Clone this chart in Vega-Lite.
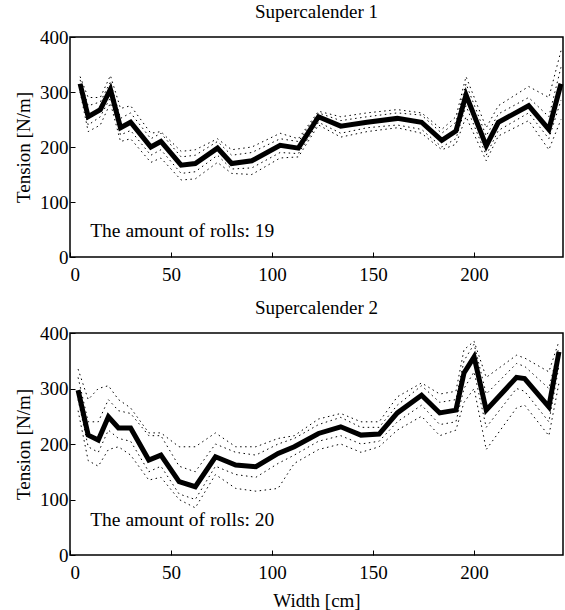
{
  "$schema": "https://vega.github.io/schema/vega-lite/v6.json",
  "background": "white",
  "padding": {"left": 13, "top": 2, "right": 0, "bottom": 0},
  "spacing": 13,
  "config": {
    "font": "Liberation Serif",
    "view": {"stroke": "black", "strokeWidth": 1.5},
    "axis": {
      "domain": false, "grid": false, "labelFontSize": 19, "labelColor": "black",
      "titleFontSize": 19, "titleFontWeight": "normal", "titleColor": "black",
      "tickColor": "black", "tickSize": -5, "labelPadding": 13
    },
    "axisY": {"labelPadding": 7},
    "title": {"fontSize": 19, "fontWeight": "normal", "color": "black", "offset": 6}
  },
  "datasets": {
    "p1": [
      {"s":"mean","x":5,"y":315},{"s":"mean","x":9,"y":255},{"s":"mean","x":15,"y":268},{"s":"mean","x":20,"y":305},{"s":"mean","x":25,"y":235},{"s":"mean","x":30,"y":245},{"s":"mean","x":40,"y":200},{"s":"mean","x":45,"y":210},{"s":"mean","x":55,"y":167},{"s":"mean","x":62,"y":170},{"s":"mean","x":73,"y":198},{"s":"mean","x":80,"y":170},{"s":"mean","x":90,"y":175},{"s":"mean","x":104,"y":203},{"s":"mean","x":113,"y":198},{"s":"mean","x":123,"y":255},{"s":"mean","x":134,"y":238},{"s":"mean","x":147,"y":245},{"s":"mean","x":162,"y":252},{"s":"mean","x":174,"y":245},{"s":"mean","x":184,"y":212},{"s":"mean","x":191,"y":229},{"s":"mean","x":196,"y":295},{"s":"mean","x":206,"y":202},{"s":"mean","x":212,"y":245},{"s":"mean","x":227,"y":275},{"s":"mean","x":237,"y":232},{"s":"mean","x":243,"y":315},
      {"s":"u1","x":5,"y":322},{"s":"u1","x":9,"y":275},{"s":"u1","x":15,"y":282},{"s":"u1","x":20,"y":318},{"s":"u1","x":25,"y":252},{"s":"u1","x":30,"y":262},{"s":"u1","x":40,"y":215},{"s":"u1","x":45,"y":225},{"s":"u1","x":55,"y":182},{"s":"u1","x":62,"y":185},{"s":"u1","x":73,"y":210},{"s":"u1","x":80,"y":185},{"s":"u1","x":90,"y":190},{"s":"u1","x":104,"y":215},{"s":"u1","x":113,"y":210},{"s":"u1","x":123,"y":262},{"s":"u1","x":134,"y":248},{"s":"u1","x":147,"y":255},{"s":"u1","x":162,"y":262},{"s":"u1","x":174,"y":258},{"s":"u1","x":184,"y":225},{"s":"u1","x":191,"y":245},{"s":"u1","x":196,"y":315},{"s":"u1","x":206,"y":220},{"s":"u1","x":212,"y":260},{"s":"u1","x":227,"y":290},{"s":"u1","x":237,"y":255},{"s":"u1","x":243,"y":345},
      {"s":"u2","x":5,"y":328},{"s":"u2","x":9,"y":290},{"s":"u2","x":15,"y":290},{"s":"u2","x":20,"y":330},{"s":"u2","x":25,"y":270},{"s":"u2","x":30,"y":275},{"s":"u2","x":40,"y":225},{"s":"u2","x":45,"y":228},{"s":"u2","x":55,"y":192},{"s":"u2","x":62,"y":195},{"s":"u2","x":73,"y":215},{"s":"u2","x":80,"y":195},{"s":"u2","x":90,"y":200},{"s":"u2","x":104,"y":225},{"s":"u2","x":113,"y":215},{"s":"u2","x":123,"y":265},{"s":"u2","x":134,"y":255},{"s":"u2","x":147,"y":262},{"s":"u2","x":162,"y":268},{"s":"u2","x":174,"y":262},{"s":"u2","x":184,"y":232},{"s":"u2","x":191,"y":255},{"s":"u2","x":196,"y":328},{"s":"u2","x":206,"y":235},{"s":"u2","x":212,"y":275},{"s":"u2","x":227,"y":310},{"s":"u2","x":237,"y":290},{"s":"u2","x":243,"y":375},
      {"s":"l1","x":5,"y":305},{"s":"l1","x":9,"y":240},{"s":"l1","x":15,"y":255},{"s":"l1","x":20,"y":290},{"s":"l1","x":25,"y":222},{"s":"l1","x":30,"y":230},{"s":"l1","x":40,"y":185},{"s":"l1","x":45,"y":195},{"s":"l1","x":55,"y":152},{"s":"l1","x":62,"y":155},{"s":"l1","x":73,"y":185},{"s":"l1","x":80,"y":160},{"s":"l1","x":90,"y":162},{"s":"l1","x":104,"y":190},{"s":"l1","x":113,"y":188},{"s":"l1","x":123,"y":245},{"s":"l1","x":134,"y":225},{"s":"l1","x":147,"y":235},{"s":"l1","x":162,"y":240},{"s":"l1","x":174,"y":232},{"s":"l1","x":184,"y":200},{"s":"l1","x":191,"y":215},{"s":"l1","x":196,"y":275},{"s":"l1","x":206,"y":185},{"s":"l1","x":212,"y":230},{"s":"l1","x":227,"y":262},{"s":"l1","x":237,"y":215},{"s":"l1","x":243,"y":285},
      {"s":"l2","x":5,"y":300},{"s":"l2","x":9,"y":228},{"s":"l2","x":15,"y":240},{"s":"l2","x":20,"y":280},{"s":"l2","x":25,"y":210},{"s":"l2","x":30,"y":215},{"s":"l2","x":40,"y":172},{"s":"l2","x":45,"y":180},{"s":"l2","x":55,"y":140},{"s":"l2","x":62,"y":142},{"s":"l2","x":73,"y":172},{"s":"l2","x":80,"y":152},{"s":"l2","x":90,"y":150},{"s":"l2","x":104,"y":180},{"s":"l2","x":113,"y":182},{"s":"l2","x":123,"y":240},{"s":"l2","x":134,"y":218},{"s":"l2","x":147,"y":228},{"s":"l2","x":162,"y":235},{"s":"l2","x":174,"y":225},{"s":"l2","x":184,"y":195},{"s":"l2","x":191,"y":205},{"s":"l2","x":196,"y":255},{"s":"l2","x":206,"y":175},{"s":"l2","x":212,"y":220},{"s":"l2","x":227,"y":248},{"s":"l2","x":237,"y":195},{"s":"l2","x":243,"y":250}
    ],
    "p2": [
      {"s":"mean","x":4,"y":297},{"s":"mean","x":9,"y":216},{"s":"mean","x":14,"y":207},{"s":"mean","x":19,"y":249},{"s":"mean","x":24,"y":229},{"s":"mean","x":30,"y":229},{"s":"mean","x":39,"y":171},{"s":"mean","x":45,"y":180},{"s":"mean","x":54,"y":132},{"s":"mean","x":62,"y":123},{"s":"mean","x":72,"y":177},{"s":"mean","x":82,"y":162},{"s":"mean","x":92,"y":159},{"s":"mean","x":103,"y":183},{"s":"mean","x":111,"y":195},{"s":"mean","x":123,"y":219},{"s":"mean","x":134,"y":231},{"s":"mean","x":144,"y":216},{"s":"mean","x":153,"y":218},{"s":"mean","x":162,"y":256},{"s":"mean","x":174,"y":288},{"s":"mean","x":183,"y":256},{"s":"mean","x":191,"y":261},{"s":"mean","x":195,"y":328},{"s":"mean","x":200,"y":357},{"s":"mean","x":206,"y":261},{"s":"mean","x":221,"y":320},{"s":"mean","x":225,"y":318},{"s":"mean","x":237,"y":267},{"s":"mean","x":242,"y":366},
      {"s":"u1","x":4,"y":320},{"s":"u1","x":9,"y":240},{"s":"u1","x":14,"y":240},{"s":"u1","x":19,"y":280},{"s":"u1","x":24,"y":260},{"s":"u1","x":30,"y":255},{"s":"u1","x":39,"y":215},{"s":"u1","x":45,"y":215},{"s":"u1","x":54,"y":160},{"s":"u1","x":62,"y":150},{"s":"u1","x":72,"y":200},{"s":"u1","x":82,"y":185},{"s":"u1","x":92,"y":180},{"s":"u1","x":103,"y":200},{"s":"u1","x":111,"y":210},{"s":"u1","x":123,"y":235},{"s":"u1","x":134,"y":248},{"s":"u1","x":144,"y":230},{"s":"u1","x":153,"y":230},{"s":"u1","x":162,"y":270},{"s":"u1","x":174,"y":305},{"s":"u1","x":183,"y":275},{"s":"u1","x":191,"y":280},{"s":"u1","x":195,"y":350},{"s":"u1","x":200,"y":380},{"s":"u1","x":206,"y":290},{"s":"u1","x":221,"y":345},{"s":"u1","x":225,"y":340},{"s":"u1","x":237,"y":300},{"s":"u1","x":242,"y":375},
      {"s":"u2","x":4,"y":335},{"s":"u2","x":9,"y":280},{"s":"u2","x":14,"y":300},{"s":"u2","x":19,"y":305},{"s":"u2","x":24,"y":280},{"s":"u2","x":30,"y":265},{"s":"u2","x":39,"y":220},{"s":"u2","x":45,"y":220},{"s":"u2","x":54,"y":195},{"s":"u2","x":62,"y":195},{"s":"u2","x":72,"y":220},{"s":"u2","x":82,"y":195},{"s":"u2","x":92,"y":195},{"s":"u2","x":103,"y":210},{"s":"u2","x":111,"y":215},{"s":"u2","x":123,"y":245},{"s":"u2","x":134,"y":255},{"s":"u2","x":144,"y":240},{"s":"u2","x":153,"y":240},{"s":"u2","x":162,"y":285},{"s":"u2","x":174,"y":310},{"s":"u2","x":183,"y":290},{"s":"u2","x":191,"y":295},{"s":"u2","x":195,"y":370},{"s":"u2","x":200,"y":385},{"s":"u2","x":206,"y":320},{"s":"u2","x":221,"y":360},{"s":"u2","x":225,"y":355},{"s":"u2","x":237,"y":330},{"s":"u2","x":242,"y":385},
      {"s":"l1","x":4,"y":280},{"s":"l1","x":9,"y":195},{"s":"l1","x":14,"y":185},{"s":"l1","x":19,"y":225},{"s":"l1","x":24,"y":210},{"s":"l1","x":30,"y":205},{"s":"l1","x":39,"y":150},{"s":"l1","x":45,"y":160},{"s":"l1","x":54,"y":110},{"s":"l1","x":62,"y":100},{"s":"l1","x":72,"y":160},{"s":"l1","x":82,"y":145},{"s":"l1","x":92,"y":140},{"s":"l1","x":103,"y":165},{"s":"l1","x":111,"y":180},{"s":"l1","x":123,"y":205},{"s":"l1","x":134,"y":215},{"s":"l1","x":144,"y":200},{"s":"l1","x":153,"y":205},{"s":"l1","x":162,"y":240},{"s":"l1","x":174,"y":270},{"s":"l1","x":183,"y":235},{"s":"l1","x":191,"y":240},{"s":"l1","x":195,"y":300},{"s":"l1","x":200,"y":330},{"s":"l1","x":206,"y":230},{"s":"l1","x":221,"y":300},{"s":"l1","x":225,"y":295},{"s":"l1","x":237,"y":240},{"s":"l1","x":242,"y":340},
      {"s":"l2","x":4,"y":260},{"s":"l2","x":9,"y":170},{"s":"l2","x":14,"y":160},{"s":"l2","x":19,"y":190},{"s":"l2","x":24,"y":195},{"s":"l2","x":30,"y":180},{"s":"l2","x":39,"y":135},{"s":"l2","x":45,"y":140},{"s":"l2","x":54,"y":100},{"s":"l2","x":62,"y":85},{"s":"l2","x":72,"y":145},{"s":"l2","x":82,"y":120},{"s":"l2","x":92,"y":115},{"s":"l2","x":103,"y":120},{"s":"l2","x":111,"y":165},{"s":"l2","x":123,"y":190},{"s":"l2","x":134,"y":200},{"s":"l2","x":144,"y":185},{"s":"l2","x":153,"y":195},{"s":"l2","x":162,"y":225},{"s":"l2","x":174,"y":250},{"s":"l2","x":183,"y":215},{"s":"l2","x":191,"y":225},{"s":"l2","x":195,"y":275},{"s":"l2","x":200,"y":300},{"s":"l2","x":206,"y":190},{"s":"l2","x":221,"y":265},{"s":"l2","x":225,"y":270},{"s":"l2","x":237,"y":215},{"s":"l2","x":242,"y":310}
    ]
  },
  "vconcat": [
    {
      "title": "Supercalender 1",
      "width": 493, "height": 220,
      "layer": [
        {
          "data": {"name": "p1"},
          "transform": [{"filter": "datum.s !== 'mean'"}],
          "mark": {"type": "line", "color": "black", "strokeWidth": 1, "strokeDash": [1.5, 3.5]},
          "encoding": {
            "x": {"field": "x", "type": "quantitative", "scale": {"domain": [0, 244], "nice": false}, "axis": {"values": [0, 50, 100, 150, 200], "title": null}},
            "y": {"field": "y", "type": "quantitative", "scale": {"domain": [0, 400], "nice": false}, "axis": {"values": [0, 100, 200, 300, 400], "title": "Tension [N/m]", "titlePadding": 6}},
            "detail": {"field": "s"}
          }
        },
        {
          "data": {"name": "p1"},
          "transform": [{"filter": "datum.s === 'mean'"}],
          "mark": {"type": "line", "color": "black", "strokeWidth": 5, "strokeJoin": "miter"},
          "encoding": {
            "x": {"field": "x", "type": "quantitative"},
            "y": {"field": "y", "type": "quantitative"}
          }
        },
        {
          "data": {"values": [{}]},
          "mark": {"type": "text", "text": "The amount of rolls: 19", "align": "left", "baseline": "alphabetic", "fontSize": 19.5, "color": "black"},
          "encoding": {"x": {"datum": 10}, "y": {"datum": 36}}
        }
      ]
    },
    {
      "title": "Supercalender 2",
      "width": 493, "height": 222,
      "layer": [
        {
          "data": {"name": "p2"},
          "transform": [{"filter": "datum.s !== 'mean'"}],
          "mark": {"type": "line", "color": "black", "strokeWidth": 1, "strokeDash": [1.5, 3.5]},
          "encoding": {
            "x": {"field": "x", "type": "quantitative", "scale": {"domain": [0, 244], "nice": false}, "axis": {"values": [0, 50, 100, 150, 200], "title": "Width [cm]", "titlePadding": 9}},
            "y": {"field": "y", "type": "quantitative", "scale": {"domain": [0, 400], "nice": false}, "axis": {"values": [0, 100, 200, 300, 400], "title": "Tension [N/m]", "titlePadding": 6}},
            "detail": {"field": "s"}
          }
        },
        {
          "data": {"name": "p2"},
          "transform": [{"filter": "datum.s === 'mean'"}],
          "mark": {"type": "line", "color": "black", "strokeWidth": 5, "strokeJoin": "miter"},
          "encoding": {
            "x": {"field": "x", "type": "quantitative"},
            "y": {"field": "y", "type": "quantitative"}
          }
        },
        {
          "data": {"values": [{}]},
          "mark": {"type": "text", "text": "The amount of rolls: 20", "align": "left", "baseline": "alphabetic", "fontSize": 19.5, "color": "black"},
          "encoding": {"x": {"datum": 10}, "y": {"datum": 52}}
        }
      ]
    }
  ]
}
